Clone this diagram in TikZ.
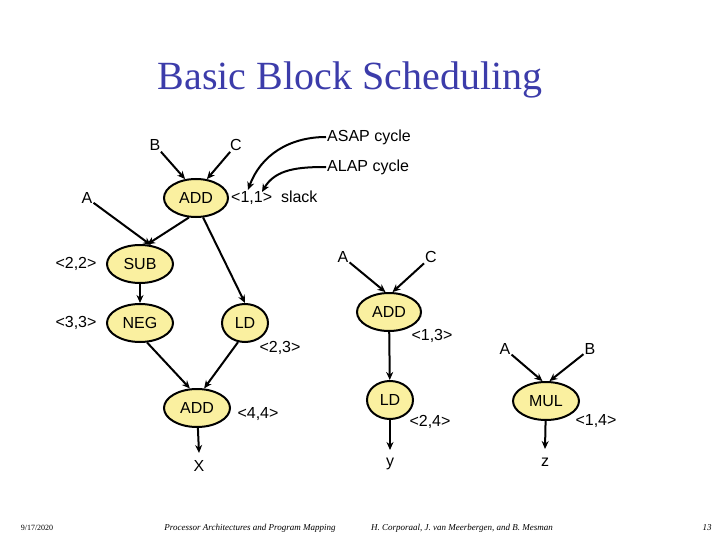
\documentclass[tikz,border=0pt]{standalone}
\usepackage{fontspec}
\setmainfont{Liberation Serif}
\setsansfont{Liberation Sans}
\usetikzlibrary{shapes.geometric,arrows.meta}
\definecolor{opfill}{RGB}{250,240,160}
\definecolor{titleblue}{RGB}{60,60,170}
\tikzset{
  op/.style={ellipse,draw,line width=2pt,fill=opfill,font=\sffamily\fontsize{16}{16}\selectfont,inner sep=1pt,minimum height=38pt},
  lbl/.style={font=\sffamily\fontsize{16}{16}\selectfont,inner sep=1pt},
  dep/.style={-{Stealth[length=8pt,width=7pt]},line width=2pt},
  foot/.style={font=\rmfamily\itshape\fontsize{9}{9}\selectfont,inner sep=0pt}
}
\begin{document}
\begin{tikzpicture}[x=1pt,y=-1pt]
\useasboundingbox (0,0) rectangle (720,540);
\node[font=\rmfamily\fontsize{40}{40}\selectfont,text=titleblue] (title) at (350,80) {Basic Block Scheduling};
% first tree
\node[lbl] (b1) at (155,145) {B};
\node[lbl] (c1) at (236,145) {C};
\node[lbl] (a1) at (87,198) {A};
\node[op,minimum width=64pt] (add1) at (196,198) {ADD};
\node[lbl,anchor=west] (slack) at (230,198) {<1,1>\ \ slack};
\coordinate (asapend) at (248,190);
\coordinate (alapend) at (262,192);
\node[lbl,anchor=west] (asap) at (326,137) {ASAP cycle};
\node[lbl,anchor=west] (alap) at (326,167) {ALAP cycle};
\node[op,minimum width=66pt] (sub) at (140,264) {SUB};
\node[lbl] (t22) at (76,264) {<2,2>};
\node[op,minimum width=66pt] (neg) at (140,323) {NEG};
\node[lbl] (t33) at (76,323) {<3,3>};
\node[op,minimum width=46pt] (ld1) at (245,323) {LD};
\node[lbl] (t23) at (280,348) {<2,3>};
\node[op,minimum width=66pt] (add2) at (197,408) {ADD};
\node[lbl] (t44) at (258,414) {<4,4>};
\node[lbl] (x) at (199,466) {X};
\coordinate (xend) at (199,453);
% second tree
\node[lbl] (a2) at (343,257) {A};
\node[lbl] (c2) at (431,257) {C};
\node[op,minimum width=64pt] (add3) at (389,312) {ADD};
\node[lbl] (t13) at (432,336) {<1,3>};
\node[op,minimum width=46pt] (ld2) at (390,400) {LD};
\node[lbl] (t24) at (430,422) {<2,4>};
\node[lbl] (y) at (390,464) {y};
\coordinate (yend) at (390,450);
% third tree
\node[lbl] (a3) at (505,349) {A};
\node[lbl] (b3) at (590,349) {B};
\node[op,minimum width=66pt] (mul) at (546,401) {MUL};
\node[lbl] (t14) at (596,421) {<1,4>};
\node[lbl] (z) at (545,462) {z};
\coordinate (zend) at (545,449);
% edges
\draw[dep] (b1) -- (add1.120);
\draw[dep] (c1) -- (add1.60);
\draw[dep] (asap.west) to[out=180,in=70] (asapend);
\draw[dep] (alap.west) to[out=180,in=60] (alapend);
\draw[dep] (a1) -- (sub.60);
\draw[dep] (add1.250) -- (sub.70);
\draw[dep] (add1.290) -- (ld1.north);
\draw[dep] (sub) -- (neg);
\draw[dep] (neg.290) -- (add2.110);
\draw[dep] (ld1.250) -- (add2.70);
\draw[dep] (add2) -- (xend);
\draw[dep] (a2) -- (add3.100);
\draw[dep] (c2) -- (add3.80);
\draw[dep] (add3) -- (ld2);
\draw[dep] (ld2) -- (yend);
\draw[dep] (a3) -- (mul.100);
\draw[dep] (b3) -- (mul.80);
\draw[dep] (mul) -- (zend);
% footer
\node[foot,font=\rmfamily\fontsize{8}{8}\selectfont] (date) at (37,528) {9/17/2020};
\node[foot] (course) at (250,528) {Processor Architectures and Program Mapping};
\node[foot] (authors) at (462,528) {H. Corporaal, J. van Meerbergen, and B. Mesman};
\node[foot] (page) at (707,528) {13};
\end{tikzpicture}
\end{document}
